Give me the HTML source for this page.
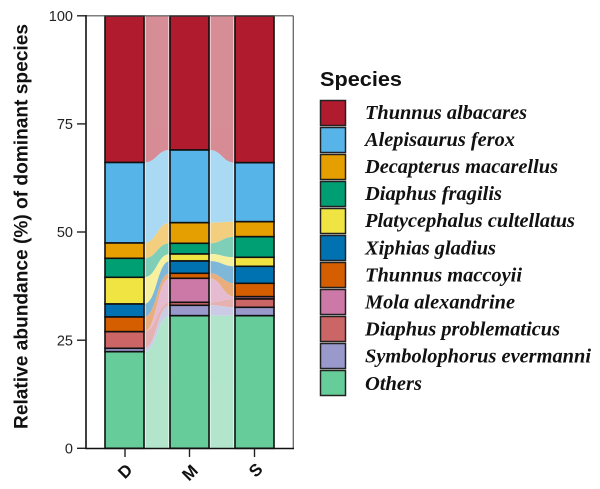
<!DOCTYPE html>
<html><head><meta charset="utf-8"><style>
html,body{margin:0;padding:0;background:#fff;}
svg{display:block;}
</style></head><body>
<svg width="600" height="489" viewBox="0 0 600 489" xmlns="http://www.w3.org/2000/svg">
<rect width="600" height="489" fill="#fff"/>
<!-- flows D->M -->
<g opacity="0.5">
<path d="M144 16 C157 16 157 16 170 16 L170 150 C157 150 157 162.5 144 162.5 Z" fill="#B01B2E"/>
<path d="M144 162.5 C157 162.5 157 150 170 150 L170 222.7 C157 222.7 157 243 144 243 Z" fill="#56B4E9"/>
<path d="M144 243 C157 243 157 222.7 170 222.7 L170 243.3 C157 243.3 157 258.3 144 258.3 Z" fill="#E69F00"/>
<path d="M144 258.3 C157 258.3 157 243.3 170 243.3 L170 254 C157 254 157 277.3 144 277.3 Z" fill="#009E73"/>
<path d="M144 277.3 C157 277.3 157 254 170 254 L170 261 C157 261 157 304 144 304 Z" fill="#F0E442"/>
<path d="M144 304 C157 304 157 261 170 261 L170 273.3 C157 273.3 157 317 144 317 Z" fill="#0072B2"/>
<path d="M144 317 C157 317 157 273.3 170 273.3 L170 278.3 C157 278.3 157 331.7 144 331.7 Z" fill="#D55E00"/>
<path d="M144 331.7 C157 331.7 157 278.3 170 278.3 L170 302.3 C157 302.3 157 331.7 144 331.7 Z" fill="#CC79A7"/>
<path d="M144 331.7 C157 331.7 157 302.3 170 302.3 L170 305.3 C157 305.3 157 348.3 144 348.3 Z" fill="#CC6666"/>
<path d="M144 348.3 C157 348.3 157 305.3 170 305.3 L170 315.7 C157 315.7 157 351.7 144 351.7 Z" fill="#9999CC"/>
<path d="M144 351.7 C157 351.7 157 315.7 170 315.7 L170 448.3 L144 448.3 Z" fill="#66CC99"/>
</g>
<!-- flows M->S -->
<g opacity="0.5">
<path d="M209 16 L235 16 L235 162.7 C222 162.7 222 150 209 150 Z" fill="#B01B2E"/>
<path d="M209 150 C222 150 222 162.7 235 162.7 L235 221.7 C222 221.7 222 222.7 209 222.7 Z" fill="#56B4E9"/>
<path d="M209 222.7 C222 222.7 222 221.7 235 221.7 L235 236.7 C222 236.7 222 243.3 209 243.3 Z" fill="#E69F00"/>
<path d="M209 243.3 C222 243.3 222 236.7 235 236.7 L235 257.3 C222 257.3 222 254 209 254 Z" fill="#009E73"/>
<path d="M209 254 C222 254 222 257.3 235 257.3 L235 266.3 C222 266.3 222 261 209 261 Z" fill="#F0E442"/>
<path d="M209 261 C222 261 222 266.3 235 266.3 L235 283.3 C222 283.3 222 273.3 209 273.3 Z" fill="#0072B2"/>
<path d="M209 273.3 C222 273.3 222 283.3 235 283.3 L235 296.7 C222 296.7 222 278.3 209 278.3 Z" fill="#D55E00"/>
<path d="M209 278.3 C222 278.3 222 296.7 235 296.7 L235 299 C222 299 222 302.3 209 302.3 Z" fill="#CC79A7"/>
<path d="M209 302.3 C222 302.3 222 299 235 299 L235 307.3 C222 307.3 222 305.3 209 305.3 Z" fill="#CC6666"/>
<path d="M209 305.3 C222 305.3 222 307.3 235 307.3 L235 315.7 C222 315.7 222 315.7 209 315.7 Z" fill="#9999CC"/>
<path d="M209 315.7 L235 315.7 L235 448.3 L209 448.3 Z" fill="#66CC99"/>
</g>
<g stroke="#fff" stroke-width="1.2" opacity="0.55">
<line x1="145.3" y1="16" x2="145.3" y2="448"/>
<line x1="168.6" y1="16" x2="168.6" y2="448"/>
<line x1="210.3" y1="16" x2="210.3" y2="448"/>
<line x1="233.6" y1="16" x2="233.6" y2="448"/>
</g>
<!-- bars -->
<g stroke="#111" stroke-width="1.6">
<!-- D -->
<rect x="105" y="16" width="39" height="146.5" fill="#B01B2E"/>
<rect x="105" y="162.5" width="39" height="80.5" fill="#56B4E9"/>
<rect x="105" y="243" width="39" height="15.3" fill="#E69F00"/>
<rect x="105" y="258.3" width="39" height="19" fill="#009E73"/>
<rect x="105" y="277.3" width="39" height="26.7" fill="#F0E442"/>
<rect x="105" y="304" width="39" height="13" fill="#0072B2"/>
<rect x="105" y="317" width="39" height="14.7" fill="#D55E00"/>
<rect x="105" y="331.7" width="39" height="16.6" fill="#CC6666"/>
<rect x="105" y="348.3" width="39" height="3.4" fill="#9999CC"/>
<rect x="105" y="351.7" width="39" height="96.6" fill="#66CC99"/>
<!-- M -->
<rect x="170" y="16" width="39" height="134" fill="#B01B2E"/>
<rect x="170" y="150" width="39" height="72.7" fill="#56B4E9"/>
<rect x="170" y="222.7" width="39" height="20.6" fill="#E69F00"/>
<rect x="170" y="243.3" width="39" height="10.7" fill="#009E73"/>
<rect x="170" y="254" width="39" height="7" fill="#F0E442"/>
<rect x="170" y="261" width="39" height="12.3" fill="#0072B2"/>
<rect x="170" y="273.3" width="39" height="5" fill="#D55E00"/>
<rect x="170" y="278.3" width="39" height="24" fill="#CC79A7"/>
<rect x="170" y="302.3" width="39" height="3" fill="#CC6666"/>
<rect x="170" y="305.3" width="39" height="10.4" fill="#9999CC"/>
<rect x="170" y="315.7" width="39" height="132.6" fill="#66CC99"/>
<!-- S -->
<rect x="235" y="16" width="39" height="146.7" fill="#B01B2E"/>
<rect x="235" y="162.7" width="39" height="59" fill="#56B4E9"/>
<rect x="235" y="221.7" width="39" height="15" fill="#E69F00"/>
<rect x="235" y="236.7" width="39" height="20.6" fill="#009E73"/>
<rect x="235" y="257.3" width="39" height="9" fill="#F0E442"/>
<rect x="235" y="266.3" width="39" height="17" fill="#0072B2"/>
<rect x="235" y="283.3" width="39" height="13.4" fill="#D55E00"/>
<rect x="235" y="296.7" width="39" height="2.3" fill="#CC79A7"/>
<rect x="235" y="299" width="39" height="8.3" fill="#CC6666"/>
<rect x="235" y="307.3" width="39" height="8.4" fill="#9999CC"/>
<rect x="235" y="315.7" width="39" height="132.6" fill="#66CC99"/>
</g>
<!-- frame -->
<line x1="86" y1="15.8" x2="293.3" y2="15.8" stroke="#555" stroke-width="1.2"/>
<line x1="293.3" y1="15.8" x2="293.3" y2="448.3" stroke="#666" stroke-width="1.3"/>
<!-- axes -->
<line x1="86" y1="15" x2="86" y2="449" stroke="#111" stroke-width="1.6"/>
<line x1="85.2" y1="448.5" x2="294" y2="448.5" stroke="#111" stroke-width="1.6"/>
<g stroke="#222" stroke-width="1.4">
<line x1="77" y1="15.8" x2="86" y2="15.8"/>
<line x1="77" y1="123.9" x2="86" y2="123.9"/>
<line x1="77" y1="232" x2="86" y2="232"/>
<line x1="77" y1="340.2" x2="86" y2="340.2"/>
<line x1="77" y1="448.3" x2="86" y2="448.3"/>
<line x1="125" y1="448.3" x2="125" y2="457"/>
<line x1="189.5" y1="448.3" x2="189.5" y2="457"/>
<line x1="254.5" y1="448.3" x2="254.5" y2="457"/>
</g>
<g font-family="Liberation Sans, Arial, sans-serif" font-size="14.5" fill="#222" text-anchor="end">
<text x="73" y="21">100</text>
<text x="73" y="129">75</text>
<text x="73" y="237">50</text>
<text x="73" y="345.5">25</text>
<text x="73" y="453.5">0</text>
</g>
<g font-family="Liberation Sans, Arial, sans-serif" font-size="17" font-weight="bold" fill="#111" text-anchor="middle">
<text transform="translate(125,471) rotate(-45)" x="0" y="6">D</text>
<text transform="translate(189.7,472.5) rotate(-45)" x="0" y="6">M</text>
<text transform="translate(255.5,470) rotate(-45)" x="0" y="6">S</text>
</g>
<text transform="translate(27.5,226.5) rotate(-90)" x="0" y="0" text-anchor="middle" font-family="Liberation Sans, Arial, sans-serif" font-size="19" font-weight="bold" fill="#111" textLength="405" lengthAdjust="spacingAndGlyphs">Relative abundance (%) of dominant species</text>
<!-- legend -->
<text x="320" y="86" font-family="Liberation Sans, Arial, sans-serif" font-size="20" font-weight="bold" fill="#111" textLength="82" lengthAdjust="spacingAndGlyphs">Species</text>
<g stroke="#222" stroke-width="1.5">
<rect x="320.5" y="100.5" width="25" height="25" fill="#B01B2E"/>
<rect x="320.5" y="127.5" width="25" height="25" fill="#56B4E9"/>
<rect x="320.5" y="154.5" width="25" height="25" fill="#E69F00"/>
<rect x="320.5" y="181.5" width="25" height="25" fill="#009E73"/>
<rect x="320.5" y="208.5" width="25" height="25" fill="#F0E442"/>
<rect x="320.5" y="235.5" width="25" height="25" fill="#0072B2"/>
<rect x="320.5" y="262.5" width="25" height="25" fill="#D55E00"/>
<rect x="320.5" y="289.5" width="25" height="25" fill="#CC79A7"/>
<rect x="320.5" y="316.5" width="25" height="25" fill="#CC6666"/>
<rect x="320.5" y="343.5" width="25" height="25" fill="#9999CC"/>
<rect x="320.5" y="370.5" width="25" height="25" fill="#66CC99"/>
</g>
<g font-family="Liberation Serif, Times New Roman, serif" font-size="20" font-weight="bold" font-style="italic" fill="#111" lengthAdjust="spacingAndGlyphs">
<text x="365" y="119" textLength="162" lengthAdjust="spacingAndGlyphs">Thunnus albacares</text>
<text x="365" y="146" textLength="150" lengthAdjust="spacingAndGlyphs">Alepisaurus ferox</text>
<text x="365" y="173" textLength="193" lengthAdjust="spacingAndGlyphs">Decapterus macarellus</text>
<text x="365" y="200" textLength="137" lengthAdjust="spacingAndGlyphs">Diaphus fragilis</text>
<text x="365" y="227" textLength="210" lengthAdjust="spacingAndGlyphs">Platycephalus cultellatus</text>
<text x="365" y="254.5" textLength="131" lengthAdjust="spacingAndGlyphs">Xiphias gladius</text>
<text x="365" y="281.5" textLength="157" lengthAdjust="spacingAndGlyphs">Thunnus maccoyii</text>
<text x="365" y="308.5" textLength="150" lengthAdjust="spacingAndGlyphs">Mola alexandrine</text>
<text x="365" y="335.5" textLength="195" lengthAdjust="spacingAndGlyphs">Diaphus problematicus</text>
<text x="365" y="362.5" textLength="226" lengthAdjust="spacingAndGlyphs">Symbolophorus evermanni</text>
<text x="365" y="390" textLength="57" lengthAdjust="spacingAndGlyphs">Others</text>
</g>
</svg>
</body></html>
